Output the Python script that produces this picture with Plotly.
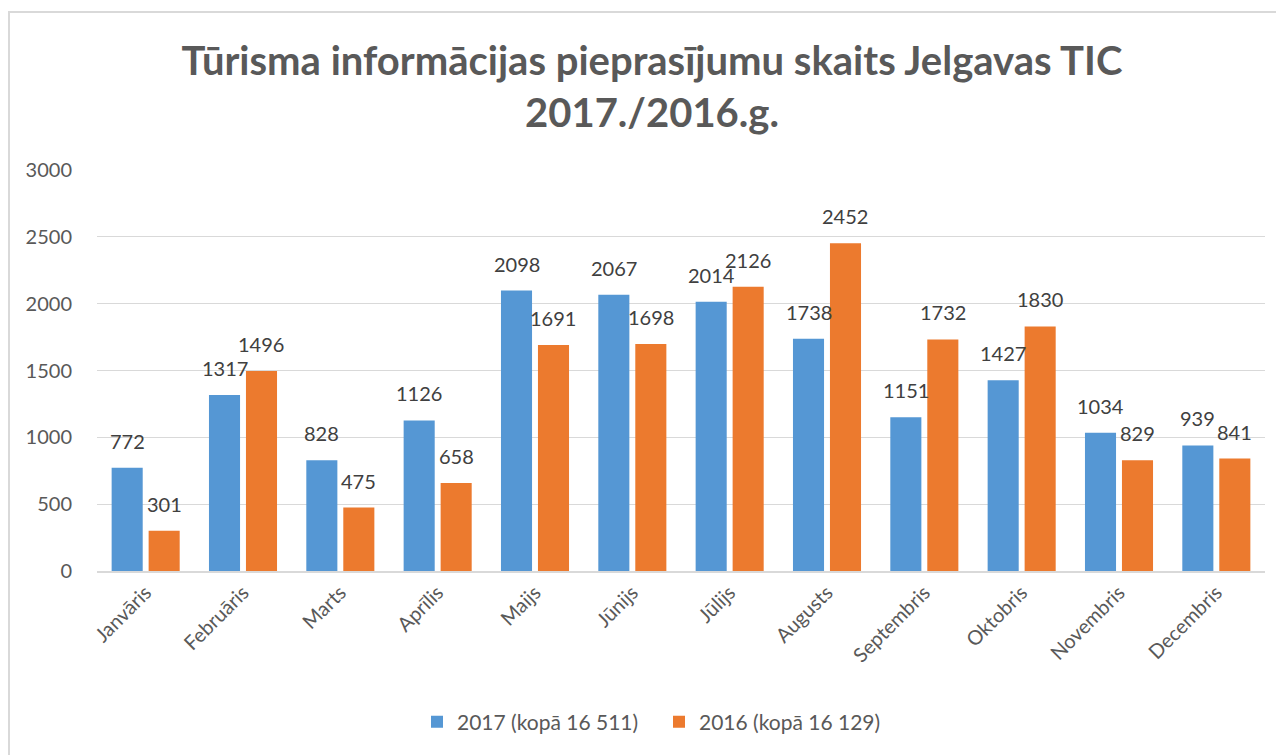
import plotly.graph_objects as go

months = ["Janvāris", "Februāris", "Marts", "Aprīlis", "Maijs", "Jūnijs",
          "Jūlijs", "Augusts", "Septembris", "Oktobris", "Novembris", "Decembris"]
values_2017 = [772, 1317, 828, 1126, 2098, 2067, 2014, 1738, 1151, 1427, 1034, 939]
values_2016 = [301, 1496, 475, 658, 1691, 1698, 2126, 2452, 1732, 1830, 829, 841]
series_names = ["2017 (kopā 16 511)", "2016 (kopā 16 129)"]
title_text = "Tūrisma informācijas pieprasījumu skaits Jelgavas TIC<br>2017./2016.g."

OFF = 8  # page body margin
W, H = 1284 - OFF, 755 - OFF
L, R, T, B = 97 - OFF, 19, 170 - OFF, 184
FONT = "Lato, 'Open Sans', sans-serif"
TXT = "#595959"
BARGAP, GROUPGAP = 0.24, 0.16

fig = go.Figure()
fig.add_trace(go.Bar(
    x=months, y=values_2017, name=series_names[0],
    marker=dict(color="#5597D4", line=dict(width=0)),
))
fig.add_trace(go.Bar(
    x=months, y=values_2016, name=series_names[1],
    marker=dict(color="#EC7A2E", line=dict(width=0)),
))

pw = W - L - R
ph = H - T - B
cat_px = pw / len(months)
slot = (1 - BARGAP) / 2
for sign, vals in ((-1, values_2017), (1, values_2016)):
    for m, v in zip(months, vals):
        fig.add_annotation(x=m, y=v, text=str(v), showarrow=False,
                           xshift=sign * slot / 2 * cat_px, yshift=13,
                           yanchor="bottom", xanchor="center",
                           font=dict(size=20, color="#404040", family=FONT))

fig.add_shape(type="rect", xref="paper", yref="paper",
              x0=(1 - L) / pw, x1=(W + 5 - L) / pw,
              y0=-(H + 5 - T - ph) / ph, y1=(H - 4 - B) / ph,
              line=dict(color="#D9D9D9", width=2), layer="below")

legend_left_px = 432 - OFF - 15  # figure px
fig.update_layout(
    width=W, height=H,
    margin=dict(l=L, r=R, t=T, b=B, pad=0, autoexpand=False),
    paper_bgcolor="white", plot_bgcolor="white",
    barmode="group", bargap=BARGAP, bargroupgap=GROUPGAP,
    title=dict(text=title_text, x=(652 - OFF) / W, xanchor="center",
               y=1 - 67 / H, yanchor="top", yref="container",
               font=dict(size=40, color=TXT, family=FONT, weight="bold")),
    font=dict(family=FONT, color=TXT, size=20),
    legend=dict(orientation="h", x=(legend_left_px - L) / pw, xanchor="left",
                y=-(722 - 571) / ph, yanchor="middle",
                font=dict(size=21, color=TXT), itemwidth=30,
                entrywidth=197, entrywidthmode="pixels",
                traceorder="normal"),
    xaxis=dict(tickangle=-45, showgrid=False, showline=True, linecolor="#D9D9D9",
               linewidth=2, ticks="", automargin=False,
               tickfont=dict(size=20, color=TXT)),
    yaxis=dict(range=[0, 3000], dtick=500, showgrid=True, gridcolor="#D9D9D9",
               gridwidth=1, zeroline=False, showline=False, ticks="outside",
               ticklen=20, tickcolor="white", automargin=False,
               tickfont=dict(size=20, color=TXT)),
)
fig.write_html("out.html")
